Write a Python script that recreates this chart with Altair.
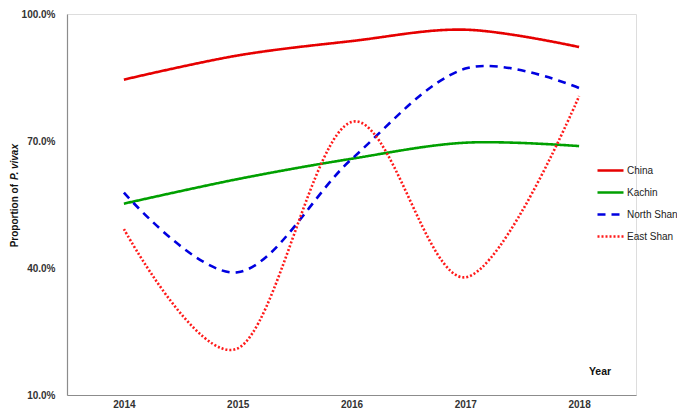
import altair as alt
import pandas as pd

years = ["2014", "2015", "2016", "2017", "2018"]
series_names = ["China", "Kachin", "North Shan", "East Shan"]
china = [0.845, 0.902, 0.936, 0.963, 0.922]
kachin = [0.552, 0.610, 0.658, 0.696, 0.688]
north_shan = [0.578, 0.390, 0.657, 0.871, 0.825]
east_shan = [0.492, 0.210, 0.745, 0.378, 0.806]
y_ticks = [0.1, 0.4, 0.7, 1.0]

colors = ["#e60000", "#00a000", "#0000e0", "#ff1a1a"]
dashes = [[1, 0], [1, 0], [8, 6], [2, 2]]

rows = []
for name, vals in zip(series_names, [china, kachin, north_shan, east_shan]):
    for yr, v in zip(years, vals):
        rows.append({"Year": yr, "Series": name, "Value": v})
df = pd.DataFrame(rows)

FONT = "Liberation Sans"
AXIS_COLOR = "#8c8c8c"
LABEL_COLOR = "#333333"

lines = alt.Chart(df).mark_line(
    interpolate="cardinal", strokeWidth=2.6
).encode(
    x=alt.X("Year:O", sort=years,
            scale=alt.Scale(type="point", padding=0.5),
            axis=alt.Axis(title=None, labelAngle=0, ticks=False,
                          labelFont=FONT, labelFontSize=10, labelFontWeight="bold",
                          labelColor=LABEL_COLOR, labelPadding=4,
                          domainColor=AXIS_COLOR, domainWidth=1.2, grid=False)),
    y=alt.Y("Value:Q", scale=alt.Scale(domain=[0.1, 1.0], nice=False, zero=False),
            axis=alt.Axis(title=None, values=y_ticks, format=".1%", ticks=False,
                          labelFont=FONT, labelFontSize=10, labelFontWeight="bold",
                          labelColor=LABEL_COLOR, labelPadding=12,
                          domainColor=AXIS_COLOR, domainWidth=1.2, grid=False)),
    color=alt.Color("Series:N", sort=series_names,
                    scale=alt.Scale(domain=series_names, range=colors),
                    legend=alt.Legend(title=None, orient="none", legendX=529, legendY=142,
                                      symbolType="stroke", symbolSize=676,
                                      symbolStrokeWidth=2.6, labelFont=FONT,
                                      labelFontSize=10, labelColor="#222222",
                                      labelOffset=2, rowPadding=2, padding=0)),
    strokeDash=alt.StrokeDash("Series:N", sort=series_names,
                              scale=alt.Scale(domain=series_names, range=dashes),
                              legend=None),
)

title1 = alt.Chart(pd.DataFrame({"t": ["Proportion of"]})).mark_text(
    angle=270, align="right", baseline="middle", font=FONT, fontSize=10,
    fontWeight="bold", color="#111111"
).encode(text="t:N", x=alt.value(-52), y=alt.value(170))

title2 = alt.Chart(pd.DataFrame({"t": ["P. vivax"]})).mark_text(
    angle=270, align="left", baseline="middle", font=FONT, fontSize=10,
    fontWeight="bold", fontStyle="italic", color="#111111"
).encode(text="t:N", x=alt.value(-52), y=alt.value(166))

year_lbl = alt.Chart(pd.DataFrame({"t": ["Year"]})).mark_text(
    align="center", baseline="middle", font=FONT, fontSize=10.5,
    fontWeight="bold", color="#111111"
).encode(text="t:N", x=alt.value(533), y=alt.value(358))

chart = alt.layer(lines, title1, title2, year_lbl).properties(
    width=569, height=381,
    autosize=alt.AutoSizeParams(type="none"),
    padding={"left": 59, "top": 6, "right": 41, "bottom": 13},
).configure_view(stroke=None).configure(background="white")

chart.save("out.html", embed_options={"renderer": "svg", "actions": False})
